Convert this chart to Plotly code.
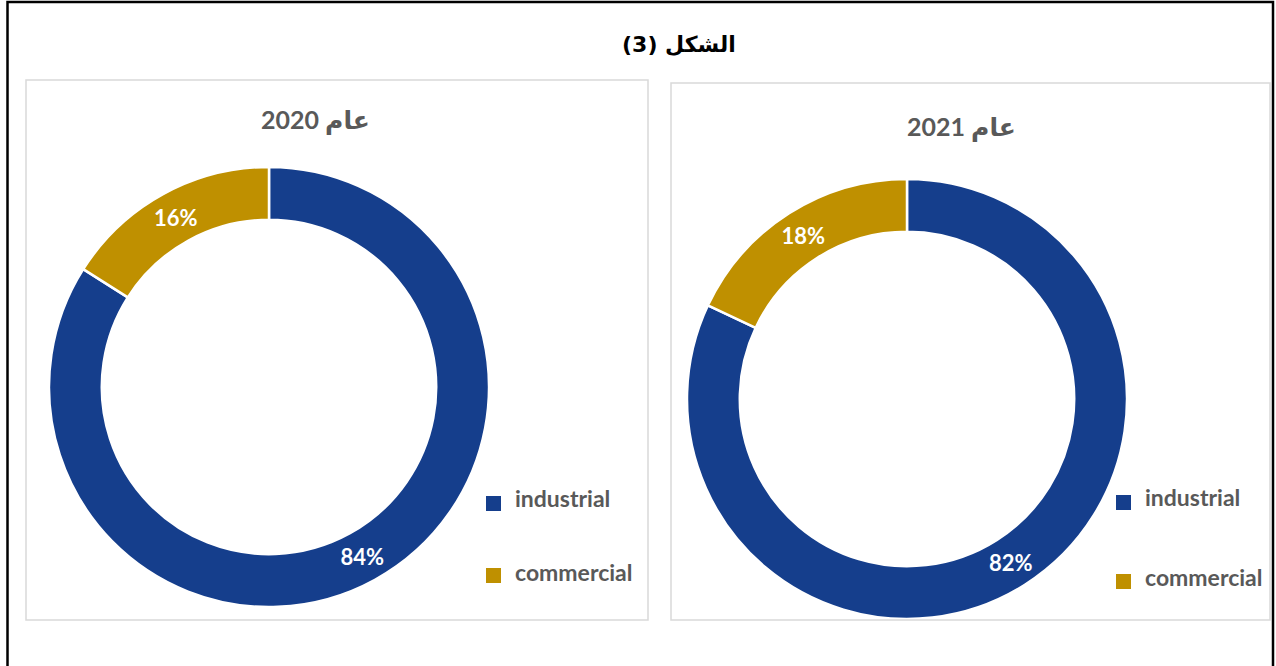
import plotly.graph_objects as go

W, H = 1276, 666

categories = ["industrial", "commercial"]
values_2020 = [84, 16]
values_2021 = [82, 18]
panel_titles = ["عام 2020", "عام 2021"]
main_title = "الشكل (3)"

BLUE = "#153E8C"
GOLD = "#BF9000"
colors = [BLUE, GOLD]
FONT = "Lato, 'DejaVu Sans', sans-serif"


def px(x):
    return x / W


def py(y):
    return 1 - y / H


fig = go.Figure()

pies = [
    (values_2020, (49, 489), (167, 607)),
    (values_2021, (687, 1127), (179, 619)),
]
for vals, (x0, x1), (y0, y1) in pies:
    fig.add_trace(go.Pie(
        labels=categories,
        values=vals,
        sort=False,
        direction="clockwise",
        rotation=0,
        hole=0.76,
        marker=dict(colors=colors, line=dict(color="white", width=2.5)),
        texttemplate="%{percent:.0%}",
        textposition="inside",
        insidetextorientation="horizontal",
        textfont=dict(family=FONT, size=22, color="white", weight="bold"),
        domain=dict(x=[px(x0), px(x1)], y=[py(y1), py(y0)]),
        showlegend=False,
        hoverinfo="label+percent",
    ))

shapes = []
# outer black frame
shapes.append(dict(type="rect", xref="paper", yref="paper",
                   x0=px(7.5), x1=px(1273), y0=py(700), y1=py(2),
                   line=dict(color="black", width=2.5)))
# panel frames
for (x0, x1, y0, y1) in [(26, 648, 80, 620), (671, 1270, 83, 620)]:
    shapes.append(dict(type="rect", xref="paper", yref="paper",
                       x0=px(x0), x1=px(x1), y0=py(y1), y1=py(y0),
                       line=dict(color="#D9D9D9", width=1.5)))

annotations = []
annotations.append(dict(text=f"<b>{main_title}</b>", x=px(679), y=py(45),
                        xref="paper", yref="paper", showarrow=False,
                        xanchor="center", yanchor="middle",
                        font=dict(family="'DejaVu Sans', sans-serif", size=22, color="black")))
for t, (cx, cy) in zip(panel_titles, [(315, 120), (961, 127)]):
    annotations.append(dict(text=f"<b>{t}</b>", x=px(cx), y=py(cy),
                            xref="paper", yref="paper", showarrow=False,
                            xanchor="center", yanchor="middle",
                            font=dict(family=FONT, size=25, color="#595959")))

# legends (manual, spaced like the original)
legend_pos = [
    (486, [(503, 498), (575, 572)]),
    (1116, [(502, 497), (581, 577)]),
]
for lx, rows in legend_pos:
    for cat, col, (sq_y, ty) in zip(categories, colors, rows):
        shapes.append(dict(type="rect", xref="paper", yref="paper",
                           x0=px(lx), x1=px(lx + 15), y0=py(sq_y + 8), y1=py(sq_y - 7),
                           line=dict(width=0), fillcolor=col))
        annotations.append(dict(text=f"<b>{cat}</b>", x=px(lx + 27), y=py(ty),
                                xref="paper", yref="paper", showarrow=False,
                                xanchor="left", yanchor="middle",
                                font=dict(family=FONT, size=23, color="#595959")))

fig.update_layout(
    width=W, height=H,
    margin=dict(l=0, r=0, t=0, b=0),
    paper_bgcolor="white",
    plot_bgcolor="white",
    shapes=shapes,
    annotations=annotations,
)

fig.write_html(
    "out.html",
    config={"displayModeBar": False},
    post_script="document.body.style.margin='0';document.body.style.overflow='hidden';",
)
